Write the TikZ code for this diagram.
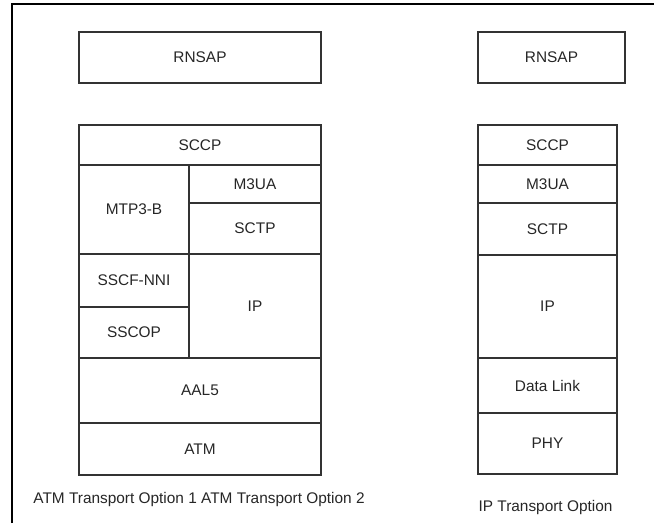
\documentclass[tikz,border=0pt]{standalone}
\usepackage{fontspec}
\setmainfont{Liberation Sans}
\begin{document}
\begin{tikzpicture}[x=1pt,y=-1pt,
  layer/.style={draw=black!80, line width=1.3pt, inner sep=0pt, text=black!85,
    font=\fontsize{15.4}{18}\selectfont},
  caption/.style={inner sep=0pt, text=black!85, font=\fontsize{15.4}{18}\selectfont},
  frameline/.style={draw=black, line width=1.2pt}]
\useasboundingbox (0,0) rectangle (654,523);
\draw[frameline] (12,523) -- (12,4) -- (654,4);
% left stack
\node[layer, minimum width=242pt, minimum height=51pt] (lrnsap) at (200,57.5) {RNSAP};
\node[layer, minimum width=242pt, minimum height=40pt] (lsccp) at (200,145) {SCCP};
\node[layer, minimum width=110pt, minimum height=89pt] (lmtp) at (134,209.5) {MTP3-B};
\node[layer, minimum width=132pt, minimum height=38pt] (lm3ua) at (255,184) {M3UA};
\node[layer, minimum width=132pt, minimum height=51pt] (lsctp) at (255,228.5) {SCTP};
\node[layer, minimum width=110pt, minimum height=53pt] (lsscf) at (134,280.5) {SSCF-NNI};
\node[layer, minimum width=110pt, minimum height=51pt] (lsscop) at (134,332.5) {SSCOP};
\node[layer, minimum width=132pt, minimum height=104pt] (lip) at (255,306) {IP};
\node[layer, minimum width=242pt, minimum height=65pt] (laal) at (200,390.5) {AAL5};
\node[layer, minimum width=242pt, minimum height=52pt] (latm) at (200,449) {ATM};
\node[caption] (lcap) at (199,500) {ATM Transport Option 1 ATM Transport Option 2};
% right stack
\node[layer, minimum width=147pt, minimum height=51pt] (rrnsap) at (551.5,57.5) {RNSAP};
\node[layer, minimum width=139pt, minimum height=40pt] (rsccp) at (547.5,145) {SCCP};
\node[layer, minimum width=139pt, minimum height=38pt] (rm3ua) at (547.5,184) {M3UA};
\node[layer, minimum width=139pt, minimum height=52pt] (rsctp) at (547.5,229) {SCTP};
\node[layer, minimum width=139pt, minimum height=103pt] (rip) at (547.5,306.5) {IP};
\node[layer, minimum width=139pt, minimum height=55pt] (rdl) at (547.5,385.5) {Data Link};
\node[layer, minimum width=139pt, minimum height=61pt] (rphy) at (547.5,443.5) {PHY};
\node[caption] (rcap) at (545.5,508) {IP Transport Option};
\end{tikzpicture}
\end{document}
